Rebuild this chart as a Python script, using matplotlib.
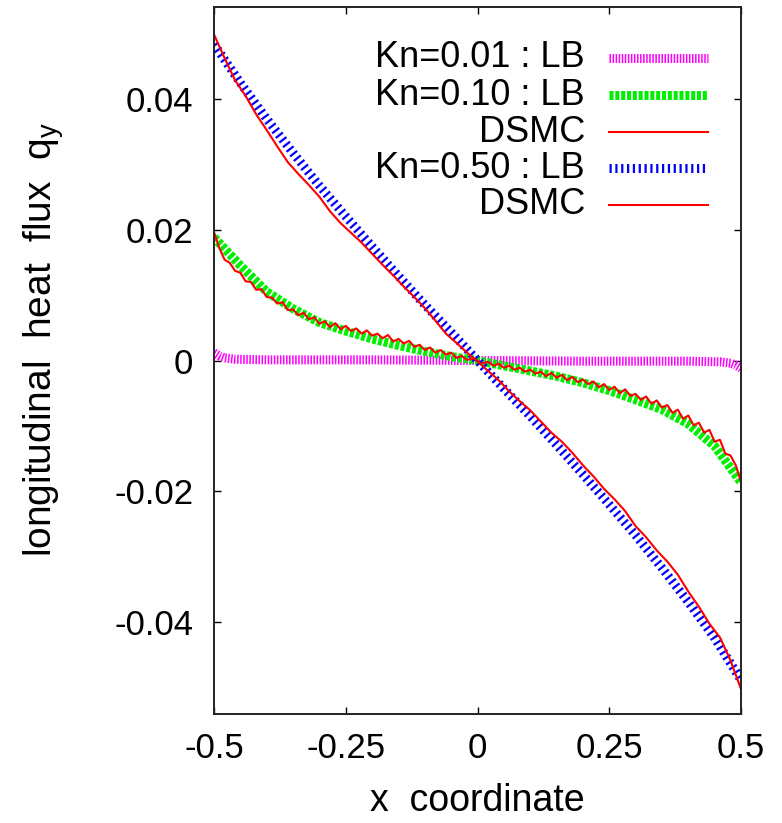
import matplotlib
matplotlib.use('Agg')
import matplotlib.pyplot as plt
from matplotlib.lines import Line2D

plt.rcParams['font.family'] = ['Liberation Sans', 'DejaVu Sans']
plt.rcParams['mathtext.default'] = 'regular'
plt.rcParams['lines.scale_dashes'] = False

# LB curves, x step 0.05
x_lb = [-0.50, -0.45, -0.40, -0.35, -0.30, -0.25, -0.20, -0.15, -0.10, -0.05, 0.00,
        0.05, 0.10, 0.15, 0.20, 0.25, 0.30, 0.35, 0.40, 0.45, 0.50]
kn10_lb = [0.0188, 0.0145, 0.0105, 0.0079, 0.0058, 0.0045, 0.0033, 0.0023, 0.0014, 0.0006, 0.0000,
           -0.0008, -0.0016, -0.0024, -0.0034, -0.0046, -0.0060, -0.0075, -0.0097, -0.0131, -0.0186]
kn50_lb = [0.0483, 0.0424, 0.0369, 0.0317, 0.0267, 0.0220, 0.0174, 0.0129, 0.0085, 0.0043, 0.0000,
           -0.0043, -0.0085, -0.0129, -0.0174, -0.0220, -0.0267, -0.0317, -0.0369, -0.0424, -0.0488]

# Kn=0.01 LB
x_kn01 = [-0.50, -0.49, -0.48, -0.46, -0.40, -0.20, 0.00, 0.20, 0.40, 0.46, 0.48, 0.49, 0.50]
kn01_lb = [0.0012, 0.0007, 0.0004, 0.0002, 0.0001, 0.0001, 0.0000, -0.0001, -0.0001, -0.0002, -0.0004, -0.0007, -0.0012]

# DSMC Kn=0.10, x step 0.01
x_ds10 = [round(-0.5 + 0.01 * i, 2) for i in range(101)]
kn10_dsmc = [
    0.0196, 0.0172, 0.0154, 0.0149, 0.0137, 0.0134, 0.0121, 0.0120, 0.0108, 0.0109,
    0.0097, 0.0096, 0.0087, 0.0089, 0.0077, 0.0078, 0.0069, 0.0073, 0.0063, 0.0066,
    0.0056, 0.0060, 0.0051, 0.0057, 0.0048, 0.0053, 0.0045, 0.0049, 0.0041, 0.0046,
    0.0038, 0.0041, 0.0034, 0.0039, 0.0029, 0.0033, 0.0026, 0.0030, 0.0021, 0.0024,
    0.0016, 0.0020, 0.0012, 0.0016, 0.0009, 0.0012, 0.0004, 0.0007, 0.0001, 0.0003,
    -0.0001,
    -0.0004, -0.0002, -0.0008, -0.0005, -0.0011, -0.0008, -0.0014, -0.0011, -0.0017, -0.0014,
    -0.0020, -0.0017, -0.0024, -0.0019, -0.0026, -0.0022, -0.0030, -0.0025, -0.0033, -0.0029,
    -0.0036, -0.0032, -0.0041, -0.0036, -0.0045, -0.0040, -0.0050, -0.0044, -0.0054, -0.0051,
    -0.0060, -0.0055, -0.0066, -0.0061, -0.0072, -0.0068, -0.0080, -0.0075, -0.0089, -0.0084,
    -0.0099, -0.0095, -0.0110, -0.0106, -0.0124, -0.0121, -0.0142, -0.0145, -0.0160, -0.0185]

# DSMC Kn=0.50, x step 0.02
x_ds50 = [round(-0.5 + 0.02 * i, 2) for i in range(51)]
kn50_dsmc = [
    0.0498, 0.0462, 0.0428, 0.0404, 0.0376, 0.0352, 0.0327, 0.0303, 0.0285, 0.0268,
    0.0250, 0.0228, 0.0210, 0.0195, 0.0180, 0.0163, 0.0146, 0.0130, 0.0113, 0.0097,
    0.0080, 0.0061, 0.0041, 0.0027, 0.0012, -0.0001, -0.0016, -0.0030, -0.0047, -0.0062,
    -0.0076, -0.0093, -0.0110, -0.0124, -0.0141, -0.0160, -0.0177, -0.0196, -0.0212, -0.0230,
    -0.0253, -0.0270, -0.0290, -0.0307, -0.0327, -0.0353, -0.0376, -0.0402, -0.0423, -0.0458,
    -0.0502]

labels = ['Kn=0.01 : LB', 'Kn=0.10 : LB', 'DSMC', 'Kn=0.50 : LB', 'DSMC']
colors = ['#ff00ff', '#00ee00', '#ff0000', '#0000ff', '#ff0000']
styles = [dict(lw=6.5, dashes=(1.1, 1.1)),
          dict(lw=6.5, dashes=(2.9, 1.3)),
          dict(lw=1.5),
          dict(lw=6.5, dashes=(1.6, 2.6)),
          dict(lw=1.5)]

fig = plt.figure(figsize=(7.82, 8.23), dpi=100)
ax = fig.add_axes([0.2737, 0.1324, 0.6739, 0.8591])

series = [(x_kn01, kn01_lb), (x_lb, kn10_lb), (x_ds10, kn10_dsmc), (x_lb, kn50_lb), (x_ds50, kn50_dsmc)]
for (xs, ys), c, st in zip(series, colors, styles):
    ax.plot(xs, ys, color=c, solid_joinstyle='round', **st)

ax.set_xlim(-0.5, 0.5)
ax.set_ylim(-0.054, 0.054)
ax.set_xticks([-0.5, -0.25, 0, 0.25, 0.5])
ax.set_xticklabels(['-0.5', '-0.25', '0', '0.25', '0.5'])
ax.set_yticks([-0.04, -0.02, 0, 0.02, 0.04])
ax.set_yticklabels(['-0.04', '-0.02', '0', '0.02', '0.04'])
ax.tick_params(direction='in', length=5, width=1, top=True, right=True, labelsize=25)
ax.tick_params(axis='x', pad=13)
ax.tick_params(axis='y', pad=15)
for s in ax.spines.values():
    s.set_linewidth(1.4)
    s.set_color('#222222')

ax.set_xlabel('x  coordinate', fontsize=27)
ax.xaxis.set_label_coords(0.5, -0.097)
ax.set_ylabel('longitudinal  heat  flux  q$_y$', fontsize=28)
ax.yaxis.set_label_coords(-0.28, 0.53)

# right-aligned key, gnuplot style
row_y = [0.928, 0.8755, 0.823, 0.772, 0.720]
for lab, c, st, yy in zip(labels, colors, styles, row_y):
    ax.text(0.704, yy, lab, transform=ax.transAxes, ha='right', va='center', fontsize=26)
    ax.add_line(Line2D([0.750, 0.937], [yy, yy], transform=ax.transAxes, color=c, **st))

fig.savefig('out.png', dpi=100)
